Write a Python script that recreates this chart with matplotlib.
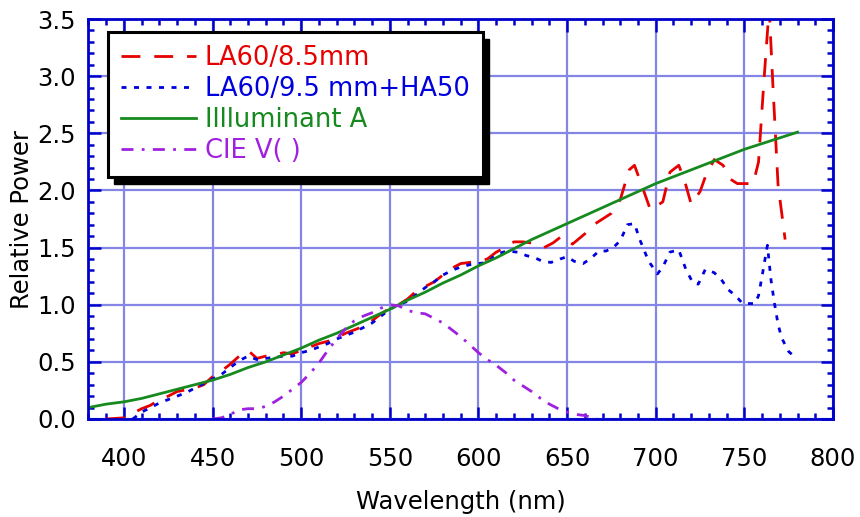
import numpy as np
import matplotlib
matplotlib.use("Agg")
import matplotlib.pyplot as plt
from matplotlib.ticker import MultipleLocator
from matplotlib.patches import Rectangle

plt.rcParams['font.family'] = ['DejaVu Sans']

## data

# LA60/8.5mm (red, long dashes)
wl_red = [390, 400, 405, 410, 415, 420, 425, 430, 440, 445, 450, 455, 460, 465, 470,
          475, 480, 485, 490, 495, 500, 505, 510, 515, 520, 525, 530, 535, 540, 545,
          550, 555, 560, 565, 570, 575, 580, 585, 590, 595, 600, 605, 610, 615, 620,
          625, 630, 637, 642, 647, 653, 660, 665, 670, 675, 680, 685, 688, 692, 697,
          704, 708, 713, 716, 720, 725, 728, 733, 738, 742, 746, 750, 755, 758, 761,
          764, 766, 769, 773]
p_red = [0.0, 0.01, 0.05, 0.09, 0.12, 0.17, 0.20, 0.24, 0.27, 0.30, 0.37, 0.42, 0.48, 0.55, 0.60,
         0.53, 0.55, 0.56, 0.58, 0.57, 0.60, 0.63, 0.66, 0.68, 0.71, 0.75, 0.78, 0.81, 0.86, 0.92,
         0.97, 1.00, 1.05, 1.12, 1.16, 1.20, 1.26, 1.32, 1.36, 1.37, 1.38, 1.40, 1.46, 1.50, 1.55,
         1.55, 1.54, 1.50, 1.54, 1.60, 1.53, 1.62, 1.70, 1.75, 1.80, 1.92, 2.18, 2.22, 2.05, 1.83,
         1.90, 2.16, 2.22, 2.10, 1.88, 1.99, 2.12, 2.27, 2.22, 2.10, 2.06, 2.06, 2.06, 2.25, 2.95,
         3.60, 2.95, 2.05, 1.57]

# LA60/9.5 mm+HA50 (blue, short dashes)
wl_blue = [405, 410, 415, 420, 425, 430, 435, 440, 445, 450, 455, 460, 465, 470, 475,
           480, 485, 490, 495, 500, 505, 510, 515, 520, 525, 530, 535, 540, 545, 550,
           555, 560, 565, 570, 575, 580, 585, 590, 595, 600, 605, 610, 616, 622, 627,
           632, 636, 641, 646, 650, 654, 659, 663, 668, 672, 676, 680, 684, 688, 691,
           696, 701, 704, 708, 713, 717, 721, 724, 728, 733, 737, 741, 745, 749, 756,
           758, 760, 763, 765, 767, 769, 771, 775, 778]
p_blue = [0.0, 0.06, 0.10, 0.14, 0.17, 0.20, 0.23, 0.27, 0.31, 0.35, 0.39, 0.45, 0.51, 0.55, 0.52,
          0.53, 0.54, 0.55, 0.55, 0.58, 0.60, 0.63, 0.66, 0.70, 0.73, 0.76, 0.80, 0.84, 0.90, 0.96,
          1.00, 1.03, 1.09, 1.15, 1.20, 1.26, 1.30, 1.33, 1.35, 1.36, 1.37, 1.44, 1.47, 1.46, 1.43,
          1.41, 1.38, 1.37, 1.40, 1.42, 1.38, 1.36, 1.40, 1.47, 1.47, 1.50, 1.56, 1.70, 1.71, 1.57,
          1.38, 1.27, 1.33, 1.46, 1.48, 1.31, 1.19, 1.18, 1.31, 1.28, 1.22, 1.13, 1.08, 1.01, 1.01,
          1.08, 1.25, 1.52, 1.22, 1.01, 0.83, 0.71, 0.59, 0.55]

# Illuminant A (green, solid)
wl_ill = [380, 390, 400, 410, 420, 430, 440, 450, 460, 470, 480, 490, 500, 510, 520,
          530, 540, 550, 560, 570, 580, 590, 600, 610, 620, 630, 640, 650, 660, 670,
          680, 690, 700, 710, 720, 730, 740, 750, 760, 770, 780]
p_ill = [0.10, 0.13, 0.15, 0.18, 0.22, 0.26, 0.30, 0.34, 0.39, 0.45, 0.50, 0.56, 0.62, 0.69, 0.75,
         0.82, 0.89, 0.96, 1.04, 1.11, 1.19, 1.26, 1.34, 1.41, 1.49, 1.57, 1.64, 1.71, 1.78, 1.85,
         1.92, 1.99, 2.06, 2.12, 2.18, 2.24, 2.30, 2.36, 2.41, 2.46, 2.51]

# CIE V(lambda) (purple, dash-dot)
wl_v = [450, 455, 460, 465, 470, 475, 480, 485, 490, 495, 500, 505, 510, 515, 520,
        525, 530, 535, 540, 545, 550, 555, 560, 565, 570, 575, 580, 585, 590, 595,
        600, 605, 610, 615, 620, 625, 630, 635, 640, 645, 650, 655, 660, 667]
p_v = [0.0, 0.01, 0.04, 0.08, 0.09, 0.09, 0.11, 0.15, 0.20, 0.26, 0.32, 0.40, 0.49, 0.60, 0.70,
       0.79, 0.86, 0.90, 0.93, 0.97, 1.00, 0.99, 0.95, 0.93, 0.92, 0.88, 0.84, 0.78, 0.72, 0.65,
       0.58, 0.52, 0.47, 0.41, 0.34, 0.29, 0.24, 0.18, 0.13, 0.09, 0.06, 0.04, 0.03, 0.0]

labels = ['LA60/8.5mm', 'LA60/9.5 mm+HA50', 'Illluminant A', 'CIE V( )']
colors = ['#e60000', '#0000dd', '#168a1e', '#a020e0']

## figure
fig = plt.figure(figsize=(8.6, 5.17), dpi=100)
ax = fig.add_axes([0.1029, 0.1896, 0.8657, 0.7736])

lw = 2.0
ax.plot(wl_red, p_red, color=colors[0], lw=lw, dashes=(6.8, 5.0), label=labels[0])
ax.plot(wl_blue, p_blue, color=colors[1], lw=lw, dashes=(1.8, 2.7), label=labels[1])
ax.plot(wl_ill, p_ill, color=colors[2], lw=lw, label=labels[2])
ax.plot(wl_v, p_v, color=colors[3], lw=lw, dashes=(4.3, 3.0, 1.0, 3.0), label=labels[3])

ax.set_xlim(380, 800)
ax.set_ylim(0, 3.5)
ax.xaxis.set_major_locator(MultipleLocator(50))
ax.xaxis.set_minor_locator(MultipleLocator(10))
ax.yaxis.set_major_locator(MultipleLocator(0.5))
ax.yaxis.set_minor_locator(MultipleLocator(0.1))
ax.yaxis.set_major_formatter(plt.FormatStrFormatter('%.1f'))

ax.grid(True, which='major', color='#8585e6', lw=1.6, zorder=0)
ax.set_axisbelow(True)

axis_blue = '#0000cc'
for s in ax.spines.values():
    s.set_color(axis_blue)
    s.set_linewidth(2.0)
ax.tick_params(which='both', direction='in', top=True, right=True, color=axis_blue, width=1.8,
               labelsize=17.5)
ax.tick_params(which='major', length=9)
ax.tick_params(which='minor', length=4.5)
ax.tick_params(axis='x', which='major', pad=20)
ax.tick_params(axis='y', which='major', pad=9)

ax.set_xlabel('Wavelength (nm)', fontsize=17.5, labelpad=14)
ax.set_ylabel('Relative Power', fontsize=17.5, labelpad=2)

leg = ax.legend(loc='upper left', bbox_to_anchor=(20 / 745, 1 - 13 / 400), borderaxespad=0,
                fontsize=18.5, handlelength=2.9, handletextpad=0.35, labelspacing=0.2,
                borderpad=0.5, fancybox=False, framealpha=1)
leg.get_frame().set_edgecolor('black')
leg.get_frame().set_linewidth(2.2)
for txt, c in zip(leg.get_texts(), colors):
    txt.set_color(c)

# black drop shadow behind the legend box
fig.canvas.draw()
bb = leg.get_window_extent()
shadow = Rectangle((bb.x0 + 6, bb.y0 - 7), bb.width, bb.height, transform=None,
                   facecolor='black', edgecolor='black', zorder=4.9, clip_on=False)
ax.add_artist(shadow)

plt.savefig('out.png', dpi=100)
